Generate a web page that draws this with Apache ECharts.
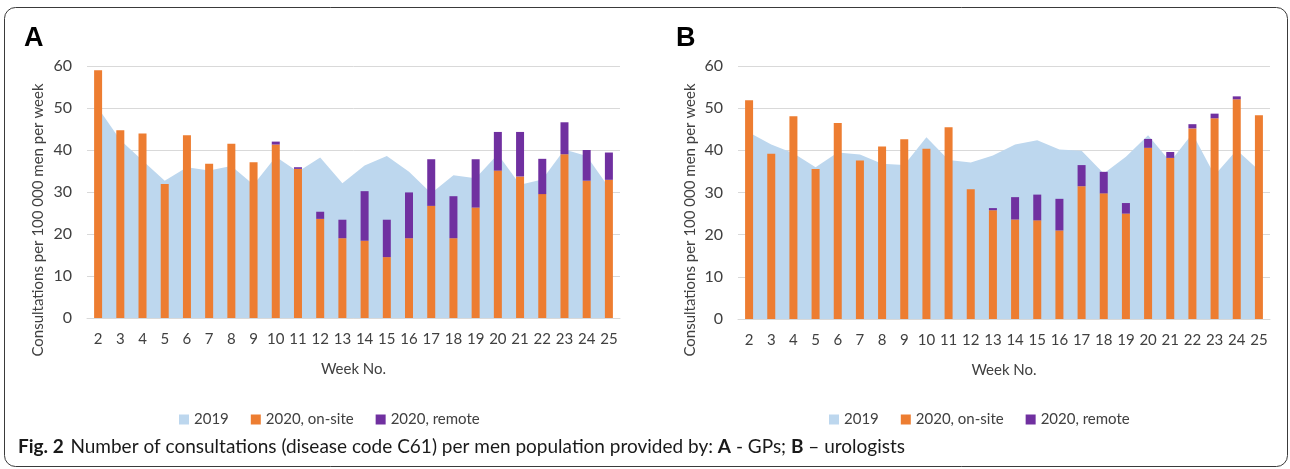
<!DOCTYPE html>
<html>
<head>
<meta charset="utf-8">
<script src="https://cdn.jsdelivr.net/npm/echarts@6/dist/echarts.min.js"></script>
<style>
html,body{margin:0;padding:0;background:#fff;}
#c{width:1290px;height:469px;}
</style>
</head>
<body>
<div id="c"></div>
<script>
const weeks = ['2','3','4','5','6','7','8','9','10','11','12','13','14','15','16','17','18','19','20','21','22','23','24','25'];
const yTicks = [0,10,20,30,40,50,60];
const yTitle = 'Consultations per 100 000 men per week';
const xTitle = 'Week No.';

// Panel A - GPs
const gp2019   = [50.0,42.4,37.5,32.7,35.9,35.1,36.2,31.7,38.4,34.8,38.2,32.1,36.3,38.6,34.8,29.7,34.0,33.3,39.0,31.7,33.0,40.1,38.6,31.1];
const gpOnsite = [59.0,44.7,43.9,31.9,43.5,36.7,41.5,37.1,41.3,35.5,23.6,19.0,18.4,14.5,19.0,26.7,19.0,26.3,35.1,33.7,29.5,39.0,32.7,32.9];
const gpRemote = [0,0,0,0,0,0,0,0,0.7,0.4,1.7,4.4,11.8,8.9,10.9,11.1,10.0,11.5,9.2,10.6,8.4,7.6,7.3,6.5];

// Panel B - urologists
const uro2019   = [44.2,41.4,39.3,36.0,39.5,39.0,36.8,36.5,43.1,37.7,37.1,38.8,41.4,42.4,40.2,39.9,34.5,38.5,43.6,37.3,44.0,34.1,40.1,35.3];
const uroOnsite = [51.9,39.2,48.1,35.6,46.5,37.6,40.9,42.6,40.4,45.5,30.8,25.8,23.6,23.4,21.0,31.5,29.8,25.0,40.6,38.2,45.2,47.6,52.1,48.3];
const uroRemote = [0,0,0,0,0,0,0,0,0,0,0,0.5,5.3,6.1,7.5,5.0,5.1,2.5,2.1,1.4,1.0,1.1,0.7,0];

const names = ['2019','2020, on-site','2020, remote'];
const C2019 = '#BDD7EE', CON = '#ED7D31', CREM = '#7030A0';
const FONT = 'Lato, "Open Sans", sans-serif';

function xAxis(gi){
  return {
    type:'category', gridIndex:gi, data:weeks, boundaryGap:true,
    axisLine:{show:true,lineStyle:{color:'#D9D9D9',width:1}},
    axisTick:{show:false},
    axisLabel:{color:'#404040',fontSize:15,fontFamily:FONT,margin:14,interval:0},
    name:xTitle, nameLocation:'middle', nameGap:44,
    nameTextStyle:{color:'#404040',fontSize:15,fontFamily:FONT}
  };
}
function yAxis(gi){
  return {
    type:'value', gridIndex:gi, min:yTicks[0], max:yTicks[yTicks.length-1], interval:10,
    axisLine:{show:false}, axisTick:{show:false},
    axisLabel:{color:'#404040',fontSize:16,fontFamily:FONT,margin:15},
    splitLine:{lineStyle:{color:'#D9D9D9',width:1}}
  };
}
function panelSeries(gi, a, on, rem){
  return [
    {name:names[0],type:'line',xAxisIndex:gi,yAxisIndex:gi,data:a,symbol:'none',
     lineStyle:{width:0,color:C2019},itemStyle:{color:C2019},areaStyle:{color:C2019,opacity:1},z:1,silent:true},
    {name:names[1],type:'bar',xAxisIndex:gi,yAxisIndex:gi,data:on,stack:'s'+gi,barWidth:8,
     itemStyle:{color:CON},z:3},
    {name:names[2],type:'bar',xAxisIndex:gi,yAxisIndex:gi,data:rem,stack:'s'+gi,barWidth:8,
     itemStyle:{color:CREM},z:3}
  ];
}
function legend(left){
  return {
    left:left, top:407, itemWidth:10, itemHeight:10, itemGap:22, icon:'rect',
    data:names, textStyle:{color:'#404040',fontSize:15,fontFamily:FONT}
  };
}
function yTitleText(x){
  return {type:'text', x:x, y:220, rotation:Math.PI/2,
    style:{text:yTitle, font:'15px '+FONT, fill:'#404040', align:'center', verticalAlign:'middle'}, silent:true};
}

const chart = echarts.init(document.getElementById('c'), null, {renderer:'canvas'});
chart.setOption({
  animation:false,
  backgroundColor:'#fff',
  grid:[
    {left:87, right:670, top:66, bottom:151},
    {left:738, right:20, top:66, bottom:150}
  ],
  xAxis:[xAxis(0), xAxis(1)],
  yAxis:[yAxis(0), yAxis(1)],
  legend:[legend(174), legend(824)],
  series:[].concat(panelSeries(0,gp2019,gpOnsite,gpRemote), panelSeries(1,uro2019,uroOnsite,uroRemote)),
  graphic:[
    {type:'rect',shape:{x:4.5,y:7.5,width:1283,height:459,r:11},
     style:{fill:'none',stroke:'#3a3a3a',lineWidth:1},silent:true},
    {type:'text',left:24,top:25,style:{text:'A',font:'bold 27px "Liberation Sans", Arial, sans-serif',fill:'#000'}},
    {type:'text',left:676,top:25,style:{text:'B',font:'bold 27px "Liberation Sans", Arial, sans-serif',fill:'#000'}},
    yTitleText(38),
    yTitleText(690),
    {type:'text',left:18,top:437,style:{
      text:'{b|Fig. 2}  {n|Number of consultations (disease code C61) per men population provided by: }{b|A}{n| - GPs; }{b|B}{n| – urologists}',
      rich:{
        b:{fontWeight:'bold',fontSize:19,fontFamily:FONT,fill:'#1a1a1a'},
        n:{fontSize:19,fontFamily:FONT,fill:'#1a1a1a'}
      }
    }}
  ]
});
</script>
</body>
</html>
